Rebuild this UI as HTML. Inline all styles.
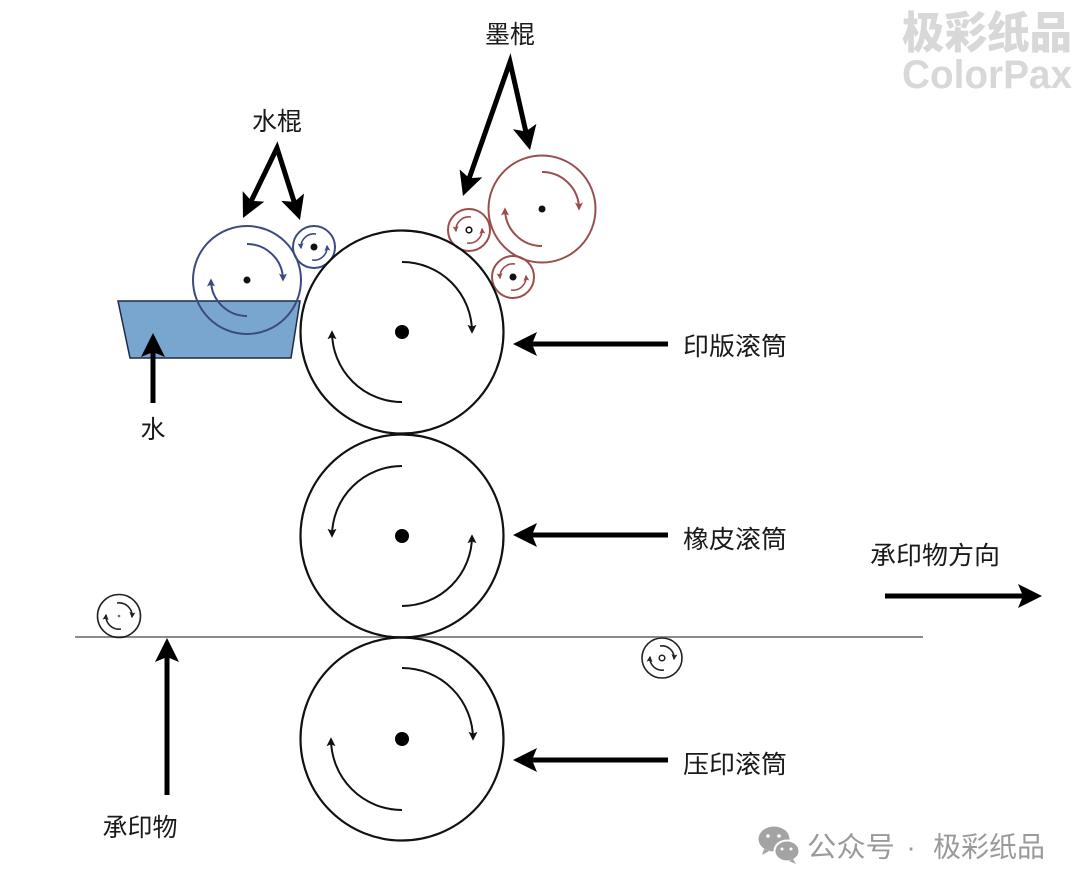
<!DOCTYPE html>
<html>
<head>
<meta charset="utf-8">
<style>
  html, body { margin: 0; padding: 0; background: #ffffff; }
  svg { display: block; }
  .lbl { font-family: "Liberation Sans", "Noto Sans CJK SC", sans-serif; font-size: 25px; fill: #1a1a1a; }
</style>
</head>
<body>
<svg width="1080" height="888" viewBox="0 0 1080 888" xmlns="http://www.w3.org/2000/svg">
  <defs>
    <marker id="big" viewBox="0 0 24 24" refX="10" refY="12" markerWidth="24" markerHeight="24" orient="auto-start-reverse" markerUnits="userSpaceOnUse">
      <path d="M0,0 L24,12 L0,24 L5,12 z" fill="#000"/>
    </marker>
    <marker id="mkb" viewBox="0 0 10 10" refX="8" refY="5" markerWidth="9" markerHeight="9" orient="auto" markerUnits="userSpaceOnUse">
      <path d="M0,0 L10,5 L0,10 L2,5 z" fill="#111"/>
    </marker>
    <marker id="mkbs" viewBox="0 0 10 10" refX="8" refY="5" markerWidth="6" markerHeight="6" orient="auto" markerUnits="userSpaceOnUse">
      <path d="M0,0 L10,5 L0,10 L2,5 z" fill="#222"/>
    </marker>
    <marker id="mku" viewBox="0 0 10 10" refX="8" refY="5" markerWidth="8" markerHeight="8" orient="auto" markerUnits="userSpaceOnUse">
      <path d="M0,0 L10,5 L0,10 L2,5 z" fill="#3c4a80"/>
    </marker>
    <marker id="mkus" viewBox="0 0 10 10" refX="8" refY="5" markerWidth="6" markerHeight="6" orient="auto" markerUnits="userSpaceOnUse">
      <path d="M0,0 L10,5 L0,10 L2,5 z" fill="#3c4a80"/>
    </marker>
    <marker id="mkr" viewBox="0 0 10 10" refX="8" refY="5" markerWidth="8" markerHeight="8" orient="auto" markerUnits="userSpaceOnUse">
      <path d="M0,0 L10,5 L0,10 L2,5 z" fill="#9b4d4d"/>
    </marker>
    <marker id="mkrs" viewBox="0 0 10 10" refX="8" refY="5" markerWidth="6" markerHeight="6" orient="auto" markerUnits="userSpaceOnUse">
      <path d="M0,0 L10,5 L0,10 L2,5 z" fill="#9b4d4d"/>
    </marker>
  </defs>

  <rect x="0" y="0" width="1080" height="888" fill="#ffffff"/>

  <!-- Watermark top right -->
  <text x="902" y="29" dominant-baseline="central" textLength="170" lengthAdjust="spacingAndGlyphs"
        style="font-family:'Noto Sans CJK SC','WenQuanYi Zen Hei',sans-serif;font-size:44px;font-weight:900;fill:#d8d8d8;">极彩纸品</text>
  <text x="902" y="88" textLength="170" lengthAdjust="spacingAndGlyphs"
        style="font-family:'Liberation Sans',sans-serif;font-size:40px;font-weight:bold;fill:#d8d8d8;">ColorPax</text>

  <!-- Substrate line -->
  <line x1="75" y1="637" x2="923" y2="637" stroke="#8c8c8c" stroke-width="2"/>

  <!-- Water tray -->
  <polygon points="118,301 300,301 291,358 130,358" fill="#78a6cf" stroke="#1f2a44" stroke-width="1.5"/>

  <!-- Water rollers (blue) -->
  <circle cx="247" cy="280" r="54" fill="none" stroke="#3c4a80" stroke-width="2"/>
  <circle cx="247" cy="280" r="3.5" fill="#111"/>
  <path d="M247,244 A36,36 0 0 1 283,280" fill="none" stroke="#3c4a80" stroke-width="2" marker-end="url(#mku)"/>
  <path d="M247,316 A36,36 0 0 1 211,280" fill="none" stroke="#3c4a80" stroke-width="2" marker-end="url(#mku)"/>

  <circle cx="314" cy="247" r="21" fill="none" stroke="#3c4a80" stroke-width="2"/>
  <circle cx="314" cy="247" r="3.5" fill="#111"/>
  <path d="M316,234 A13,13 0 0 0 301,248" fill="none" stroke="#3c4a80" stroke-width="1.6" marker-end="url(#mkus)"/>
  <path d="M312,260 A13,13 0 0 0 327,246" fill="none" stroke="#3c4a80" stroke-width="1.6" marker-end="url(#mkus)"/>

  <!-- Ink rollers (red) -->
  <circle cx="542" cy="209" r="53.5" fill="none" stroke="#9b4d4d" stroke-width="2"/>
  <circle cx="542" cy="209" r="3.5" fill="#111"/>
  <path d="M542,172 A37,37 0 0 1 579,209" fill="none" stroke="#9b4d4d" stroke-width="2" marker-end="url(#mkr)"/>
  <path d="M542,246 A37,37 0 0 1 505,209" fill="none" stroke="#9b4d4d" stroke-width="2" marker-end="url(#mkr)"/>

  <circle cx="469" cy="230" r="21" fill="none" stroke="#9b4d4d" stroke-width="2"/>
  <circle cx="469" cy="230" r="2.8" fill="none" stroke="#111" stroke-width="1.6"/>
  <path d="M471,217 A13,13 0 0 0 456,231" fill="none" stroke="#9b4d4d" stroke-width="1.6" marker-end="url(#mkrs)"/>
  <path d="M467,243 A13,13 0 0 0 482,229" fill="none" stroke="#9b4d4d" stroke-width="1.6" marker-end="url(#mkrs)"/>

  <circle cx="513" cy="277" r="21" fill="none" stroke="#9b4d4d" stroke-width="2"/>
  <circle cx="513" cy="277" r="3.5" fill="#111"/>
  <path d="M515,264 A13,13 0 0 0 500,278" fill="none" stroke="#9b4d4d" stroke-width="1.6" marker-end="url(#mkrs)"/>
  <path d="M511,290 A13,13 0 0 0 526,276" fill="none" stroke="#9b4d4d" stroke-width="1.6" marker-end="url(#mkrs)"/>

  <!-- Plate cylinder -->
  <circle cx="402" cy="332" r="101.5" fill="none" stroke="#111" stroke-width="2.2"/>
  <circle cx="402" cy="332" r="7" fill="#000"/>
  <path d="M402,262 A70,70 0 0 1 472,332" fill="none" stroke="#111" stroke-width="2" marker-end="url(#mkb)"/>
  <path d="M402,402 A70,70 0 0 1 332,332" fill="none" stroke="#111" stroke-width="2" marker-end="url(#mkb)"/>

  <!-- Blanket cylinder -->
  <circle cx="402" cy="536" r="101.5" fill="none" stroke="#111" stroke-width="2.2"/>
  <circle cx="402" cy="536" r="7" fill="#000"/>
  <path d="M402,466 A70,70 0 0 0 332,536" fill="none" stroke="#111" stroke-width="2" marker-end="url(#mkb)"/>
  <path d="M402,606 A70,70 0 0 0 472,536" fill="none" stroke="#111" stroke-width="2" marker-end="url(#mkb)"/>

  <!-- Impression cylinder -->
  <circle cx="402" cy="739" r="101.5" fill="none" stroke="#111" stroke-width="2.2"/>
  <circle cx="402" cy="739" r="7" fill="#000"/>
  <path d="M402,668 A71,71 0 0 1 473,739" fill="none" stroke="#111" stroke-width="2" marker-end="url(#mkb)"/>
  <path d="M402,810 A71,71 0 0 1 331,739" fill="none" stroke="#111" stroke-width="2" marker-end="url(#mkb)"/>

  <!-- Small rollers on substrate line -->
  <circle cx="119" cy="616" r="21.5" fill="none" stroke="#222" stroke-width="1.6"/>
  <circle cx="119" cy="616" r="1.3" fill="#5a6a9a"/>
  <path d="M117,603 A13,13 0 0 1 132,617" fill="none" stroke="#222" stroke-width="1.6" marker-end="url(#mkbs)"/>
  <path d="M121,629 A13,13 0 0 1 106,615" fill="none" stroke="#222" stroke-width="1.6" marker-end="url(#mkbs)"/>

  <circle cx="662" cy="658" r="20" fill="none" stroke="#222" stroke-width="1.6"/>
  <circle cx="662" cy="658" r="2.8" fill="none" stroke="#222" stroke-width="1.5"/>
  <path d="M660,646 A12,12 0 0 1 674,659" fill="none" stroke="#222" stroke-width="1.6" marker-end="url(#mkbs)"/>
  <path d="M664,670 A12,12 0 0 1 650,657" fill="none" stroke="#222" stroke-width="1.6" marker-end="url(#mkbs)"/>

  <!-- Thick label arrows -->
  <path d="M249.1,205.4 L277,148 L295.7,206.7" fill="none" stroke="#000" stroke-width="5" stroke-linejoin="miter" stroke-miterlimit="6"
        marker-start="url(#big)" marker-end="url(#big)"/>
  <path d="M467.6,182.8 L510,62 L526.9,136.3" fill="none" stroke="#000" stroke-width="5" stroke-linejoin="miter" stroke-miterlimit="6"
        marker-start="url(#big)" marker-end="url(#big)"/>

  <line x1="153" y1="403" x2="153" y2="347" stroke="#000" stroke-width="5" marker-end="url(#big)"/>
  <line x1="167" y1="795" x2="167" y2="652" stroke="#000" stroke-width="5" marker-end="url(#big)"/>
  <line x1="668" y1="344" x2="527" y2="344" stroke="#000" stroke-width="5" marker-end="url(#big)"/>
  <line x1="668" y1="535" x2="527" y2="535" stroke="#000" stroke-width="5" marker-end="url(#big)"/>
  <line x1="668" y1="760" x2="527" y2="760" stroke="#000" stroke-width="5" marker-end="url(#big)"/>
  <line x1="885" y1="596" x2="1028" y2="596" stroke="#000" stroke-width="5" marker-end="url(#big)"/>

  <!-- Labels -->
  <text class="lbl" x="277" y="122" text-anchor="middle" dominant-baseline="central">水棍</text>
  <text class="lbl" x="510" y="35" text-anchor="middle" dominant-baseline="central">墨棍</text>
  <text class="lbl" x="153" y="430" text-anchor="middle" dominant-baseline="central">水</text>
  <text class="lbl" x="683" y="347" dominant-baseline="central" textLength="104" lengthAdjust="spacingAndGlyphs">印版滚筒</text>
  <text class="lbl" x="683" y="540" dominant-baseline="central" textLength="104" lengthAdjust="spacingAndGlyphs">橡皮滚筒</text>
  <text class="lbl" x="683" y="765" dominant-baseline="central" textLength="104" lengthAdjust="spacingAndGlyphs">压印滚筒</text>
  <text class="lbl" x="870" y="556" dominant-baseline="central" textLength="130" lengthAdjust="spacingAndGlyphs">承印物方向</text>
  <text class="lbl" x="140" y="828" text-anchor="middle" dominant-baseline="central">承印物</text>

  <!-- Bottom right watermark: WeChat icon + text -->
  <ellipse cx="774" cy="839" rx="15.5" ry="12.5" fill="#a3a3a3"/>
  <path d="M764,849 L762,855 L769,851 z" fill="#a3a3a3"/>
  <ellipse cx="787" cy="851" rx="12.5" ry="10.5" fill="#a3a3a3" stroke="#ffffff" stroke-width="2"/>
  <path d="M793,859 L796,864 L789,861 z" fill="#a3a3a3"/>
  <circle cx="768" cy="836" r="1.8" fill="#ffffff"/>
  <circle cx="779" cy="836" r="1.8" fill="#ffffff"/>
  <circle cx="782" cy="849" r="1.5" fill="#ffffff"/>
  <circle cx="791" cy="849" r="1.5" fill="#ffffff"/>

  <text x="807" y="847" dominant-baseline="central" textLength="88" lengthAdjust="spacingAndGlyphs"
        style="font-family:'Liberation Sans','Noto Sans CJK SC',sans-serif;font-size:28px;fill:#9a9a9a;">公众号</text>
  <text x="911" y="847" text-anchor="middle" dominant-baseline="central"
        style="font-family:'Liberation Sans','Noto Sans CJK SC',sans-serif;font-size:28px;fill:#9a9a9a;">·</text>
  <text x="933" y="847" dominant-baseline="central" textLength="112" lengthAdjust="spacingAndGlyphs"
        style="font-family:'Liberation Sans','Noto Sans CJK SC',sans-serif;font-size:28px;fill:#9a9a9a;">极彩纸品</text>
</svg>
</body>
</html>
